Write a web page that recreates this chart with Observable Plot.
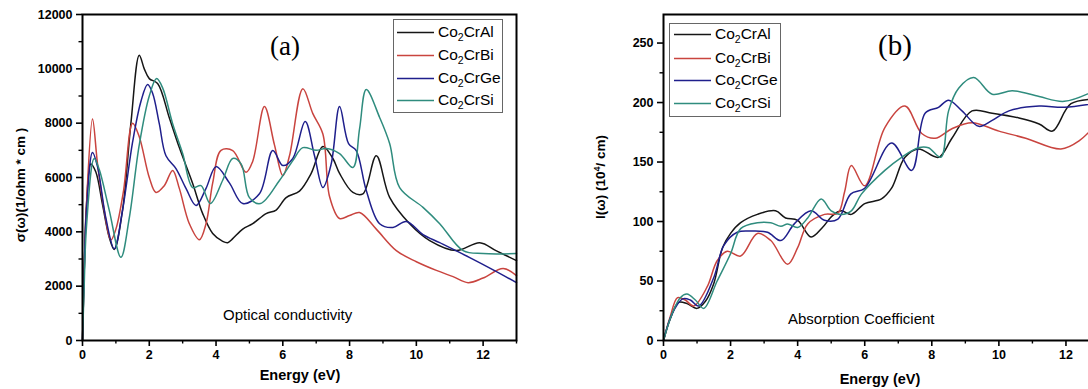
<!DOCTYPE html>
<html>
<head>
<meta charset="utf-8">
<script src="https://cdn.jsdelivr.net/npm/d3@7"></script>
<script src="https://cdn.jsdelivr.net/npm/@observablehq/plot@0.6"></script>
<style>
  html, body { margin: 0; padding: 0; background: #fff; }
  #wrap { position: relative; width: 1088px; height: 389px; overflow: hidden; font-family: "Liberation Sans", Arial, sans-serif; }
  .abs { position: absolute; white-space: nowrap; line-height: 1; }
  .legend { position: absolute; border: 1px solid #666; background: #fff; box-sizing: border-box; }
  .ent { position: absolute; left: 0; height: 18px; font-size: 15.5px; transform: translateY(-50%); }
  .ent svg { position: absolute; top: 8px; }
  .ent span { position: absolute; top: 0; }
  sub { font-size: 10.5px; vertical-align: -4px; line-height: 0; }
</style>
</head>
<body>
<div id="wrap"></div>
<script>
// ---------- Data ----------
const seriesNames = ["Co2CrAl", "Co2CrBi", "Co2CrGe", "Co2CrSi"];
const seriesColors = ["#161616", "#c9443f", "#1f1f8c", "#2f8c7e"];

// Panel (a): optical conductivity (1/ohm*cm)
const condAlE = [0, 0.05, 0.12, 0.25, 0.4, 0.6, 0.8, 0.95, 1.2, 1.45, 1.7, 1.85, 2.0, 2.25, 2.6, 2.9, 3.3, 3.6, 3.9, 4.2, 4.35, 4.5, 4.8, 5.1, 5.5, 5.8, 6.1, 6.5, 6.85, 7.2, 7.5, 7.7, 8.1, 8.4, 8.8, 9.2, 9.8, 10.4, 11.2, 11.9, 12.4, 13];
const condAlV = [0, 2500, 5000, 6500, 6200, 5000, 3800, 3350, 4800, 8000, 10500, 10000, 9640, 9460, 8200, 7100, 5780, 4670, 3940, 3650, 3600, 3750, 4100, 4300, 4670, 4800, 5260, 5500, 6150, 7140, 6700, 6150, 5450, 5400, 6800, 5270, 4300, 3680, 3310, 3600, 3300, 2940];

const condBiE = [0, 0.05, 0.12, 0.3, 0.45, 0.65, 0.85, 1.0, 1.23, 1.5, 1.7, 2.0, 2.2, 2.45, 2.7, 2.9, 3.2, 3.5, 3.7, 3.9, 4.15, 4.5, 4.9, 5.1, 5.45, 5.75, 6.0, 6.2, 6.6, 6.9, 7.2, 7.4, 7.7, 8.0, 8.3, 8.8, 9.4, 10.0, 10.6, 11.1, 11.55, 12.0, 12.6, 13];
const condBiV = [0, 2500, 5000, 8150, 6500, 4800, 3700, 4100, 5520, 8000, 7500, 6000, 5450, 5700, 6260, 5600, 4300, 3710, 4300, 5800, 7000, 6990, 6190, 6600, 8610, 7200, 6070, 6800, 9270, 8350, 7600, 5300, 4490, 4600, 4710, 4100, 3310, 2900, 2580, 2350, 2130, 2300, 2650, 2390];

const condGeE = [0, 0.05, 0.12, 0.3, 0.45, 0.7, 0.95, 1.2, 1.5, 1.75, 1.95, 2.1, 2.3, 2.5, 2.8, 3.1, 3.4, 3.7, 4.0, 4.4, 4.8, 5.3, 5.7, 6.0, 6.3, 6.67, 6.95, 7.2, 7.45, 7.7, 7.97, 8.2, 8.5, 8.9, 9.3, 9.7, 10.2, 10.7, 11.6, 12.3, 13];
const condGeV = [0, 2500, 4800, 6920, 6400, 4500, 3380, 4800, 7300, 8800, 9420, 9100, 7980, 6800, 6330, 5600, 4970, 5600, 6400, 5800, 5040, 5400, 6990, 6440, 6700, 8060, 6800, 5630, 6500, 8610, 7250, 6990, 5520, 4300, 4160, 4380, 3900, 3600, 3050, 2600, 2130];

const condSiE = [0, 0.05, 0.12, 0.35, 0.5, 0.8, 1.15, 1.4, 1.7, 2.0, 2.22, 2.4, 2.7, 3.0, 3.3, 3.55, 3.83, 4.2, 4.5, 4.75, 5.0, 5.33, 5.9, 6.3, 6.6, 7.0, 7.3, 7.7, 8.1, 8.3, 8.5, 8.9, 9.2, 9.5, 10.2, 10.7, 11.4, 12.0, 13];
const condSiV = [0, 2000, 4200, 6700, 6300, 4800, 3060, 4500, 7200, 9000, 9640, 9300, 7980, 6880, 5630, 5700, 5040, 5900, 6700, 6500, 5260, 5040, 5890, 6620, 7100, 7000, 7070, 6880, 6370, 7800, 9240, 8210, 7250, 5630, 4900, 4300, 3310, 3200, 3200];

// Panel (b): absorption coefficient (10^4 / cm)
const absAlE = [0, 0.2, 0.45, 0.7, 1.0, 1.25, 1.5, 1.76, 2.0, 2.3, 2.8, 3.34, 3.64, 4.0, 4.4, 4.74, 5.04, 5.3, 5.6, 6.0, 6.5, 6.8, 7.2, 7.6, 8.2, 8.6, 9.2, 9.8, 10.6, 11.2, 11.6, 12.15, 13];
const absAlV = [0, 18, 32, 31, 27, 33, 48, 78, 90, 99, 106, 109, 103, 101, 87, 95, 105, 109, 106, 115, 119, 128, 154, 161, 154, 170, 193, 191, 187, 182, 176, 199, 203];

const absBiE = [0, 0.2, 0.42, 0.65, 0.9, 1.3, 1.6, 1.9, 2.3, 2.8, 3.2, 3.7, 4.0, 4.3, 4.8, 5.2, 5.4, 5.6, 6.0, 6.6, 7.2, 7.7, 8.1, 8.6, 9.2, 10.0, 10.8, 11.85, 12.4, 13];
const absBiV = [0, 20, 36, 34, 29, 45, 67, 75, 71, 90, 84, 64, 78, 98, 106, 107, 125, 147, 130, 179, 197, 174, 170, 178, 183, 176, 170, 161, 168, 185];

const absGeE = [0, 0.25, 0.57, 0.8, 1.05, 1.5, 1.8, 2.2, 2.6, 3.1, 3.5, 3.9, 4.4, 4.8, 5.2, 5.58, 6.0, 6.8, 7.4, 7.8, 8.2, 8.5, 8.9, 9.4, 9.8, 10.3, 11.2, 11.95, 13];
const absGeV = [0, 22, 35, 34, 29, 53, 80, 91, 92, 91, 84, 98, 109, 101, 102, 123, 128, 166, 143, 191, 196, 202, 193, 180, 185, 193, 197, 196, 200];

const absSiE = [0, 0.25, 0.5, 0.7, 0.95, 1.2, 1.6, 2.0, 2.3, 2.8, 3.2, 3.5, 3.7, 4.0, 4.3, 4.7, 5.0, 5.3, 5.6, 5.9, 6.6, 7.1, 7.6, 7.9, 8.27, 8.5, 8.8, 9.25, 9.8, 10.4, 11.2, 11.95, 13];
const absSiV = [0, 22, 36, 39, 34, 27, 50, 73, 94, 99, 99, 96, 98, 95, 103, 119, 109, 106, 109, 123, 143, 154, 162, 162, 154, 193, 212, 221, 207, 210, 205, 201, 212];

// Axis ticks
const xMajor = [0, 2, 4, 6, 8, 10, 12];
const xMinor = [1, 3, 5, 7, 9, 11, 13];
const condMajor = [0, 2000, 4000, 6000, 8000, 10000, 12000];
const condMinor = [1000, 3000, 5000, 7000, 9000, 11000];
const absMajor = [0, 50, 100, 150, 200, 250];
const absMinor = [25, 75, 125, 175, 225];

// ---------- Build ----------
function rows(E, V, name) { return E.map((e, i) => ({ e, v: V[i], name })); }
const condData = [
  ...rows(condAlE, condAlV, seriesNames[0]),
  ...rows(condBiE, condBiV, seriesNames[1]),
  ...rows(condGeE, condGeV, seriesNames[2]),
  ...rows(condSiE, condSiV, seriesNames[3])
];
const absData = [
  ...rows(absAlE, absAlV, seriesNames[0]),
  ...rows(absBiE, absBiV, seriesNames[1]),
  ...rows(absGeE, absGeV, seriesNames[2]),
  ...rows(absSiE, absSiV, seriesNames[3])
];

const wrap = document.getElementById("wrap");
const fmt = d => String(d);

function panel(data, yDomain, yMajor, yMinor, opts) {
  return Plot.plot({
    width: opts.width, height: 389,
    marginLeft: opts.ml, marginRight: opts.mr, marginTop: 14, marginBottom: 49,
    x: { domain: [0, 13] },
    y: { domain: yDomain },
    color: { domain: seriesNames, range: seriesColors },
    style: { fontFamily: "'Liberation Sans', Arial, sans-serif", fontSize: "12.5px", fontWeight: "bold", background: "transparent", overflow: "visible" },
    marks: [
      Plot.line(data, { x: "e", y: "v", z: "name", stroke: "name", strokeWidth: 1.5, curve: "catmull-rom" }),
      Plot.frame({ stroke: "#000", strokeWidth: 2 }),
      Plot.axisX({ ticks: xMajor, tickSize: 6, tickPadding: 4, strokeWidth: 1.6, tickFormat: fmt, label: null }),
      Plot.axisX({ ticks: xMinor, tickSize: 3.5, strokeWidth: 1.4, tickFormat: () => "", label: null }),
      Plot.axisY({ ticks: yMajor, tickSize: 6, tickPadding: 4, strokeWidth: 1.6, tickFormat: fmt, label: null }),
      Plot.axisY({ ticks: yMinor, tickSize: 3.5, strokeWidth: 1.4, tickFormat: () => "", label: null })
    ]
  });
}

const pa = panel(condData, [0, 12000], condMajor, condMinor, { width: 560, ml: 82, mr: 44 });
pa.style.position = "absolute"; pa.style.left = "0px"; pa.style.top = "0px";
wrap.appendChild(pa);

const pb = panel(absData, [0, 274], absMajor, absMinor, { width: 520, ml: 73, mr: 11 });
pb.style.position = "absolute"; pb.style.left = "590px"; pb.style.top = "0px";
wrap.appendChild(pb);

// ---------- Text ----------
function addText(html, css) {
  const d = document.createElement("div");
  d.className = "abs";
  d.innerHTML = html;
  Object.assign(d.style, css);
  wrap.appendChild(d);
  return d;
}

// y labels
addText("σ(ω)(1/ohm * cm )", { left: "21px", top: "185px", fontSize: "13.5px", fontWeight: "bold", transform: "translate(-50%,-50%) rotate(-90deg)" });
addText("I(ω) (10<sup style='font-size:9px'>4</sup>/ cm)", { left: "600px", top: "177px", fontSize: "13.5px", fontWeight: "bold", transform: "translate(-50%,-50%) rotate(-90deg)" });

// x labels
addText("Energy (eV)", { left: "300px", top: "375px", fontSize: "14.5px", fontWeight: "bold", transform: "translate(-50%,-50%)" });
addText("Energy (eV)", { left: "880px", top: "379px", fontSize: "14.5px", fontWeight: "bold", transform: "translate(-50%,-50%)" });

// panel tags
addText("(a)", { left: "285px", top: "46px", fontSize: "27px", fontFamily: "'Liberation Serif', 'Times New Roman', serif", transform: "translate(-50%,-50%)" });
addText("(b)", { left: "895px", top: "45px", fontSize: "29px", fontFamily: "'Liberation Serif', 'Times New Roman', serif", transform: "translate(-50%,-50%)" });

// annotations
addText("Optical conductivity", { left: "223px", top: "314px", fontSize: "15px", transform: "translateY(-50%)" });
addText("Absorption Coefficient", { left: "788px", top: "318px", fontSize: "15px", transform: "translateY(-50%)" });

// legends
function legend(left, top, w, h, ys, lineX0, lineLen, textX) {
  const box = document.createElement("div");
  box.className = "legend";
  Object.assign(box.style, { left: left + "px", top: top + "px", width: w + "px", height: h + "px" });
  wrap.appendChild(box);
  seriesNames.forEach((name, i) => {
    const e = document.createElement("div");
    e.className = "ent";
    e.style.top = (ys[i] - top) + "px";
    e.style.width = w + "px";
    const label = name.replace("2", "<sub>2</sub>");
    e.innerHTML = `<svg width="${lineLen}" height="3" style="left:${lineX0 - left}px"><line x1="0" x2="${lineLen}" y1="1.5" y2="1.5" stroke="${seriesColors[i]}" stroke-width="1.6"/></svg><span style="left:${textX - left}px">${label}</span>`;
    box.appendChild(e);
  });
}
legend(393, 19, 110, 94, [31, 54, 77, 99], 396, 37, 437);
legend(669, 23, 112, 94, [33, 57, 79, 102], 673, 37, 714);
</script>
</body>
</html>
